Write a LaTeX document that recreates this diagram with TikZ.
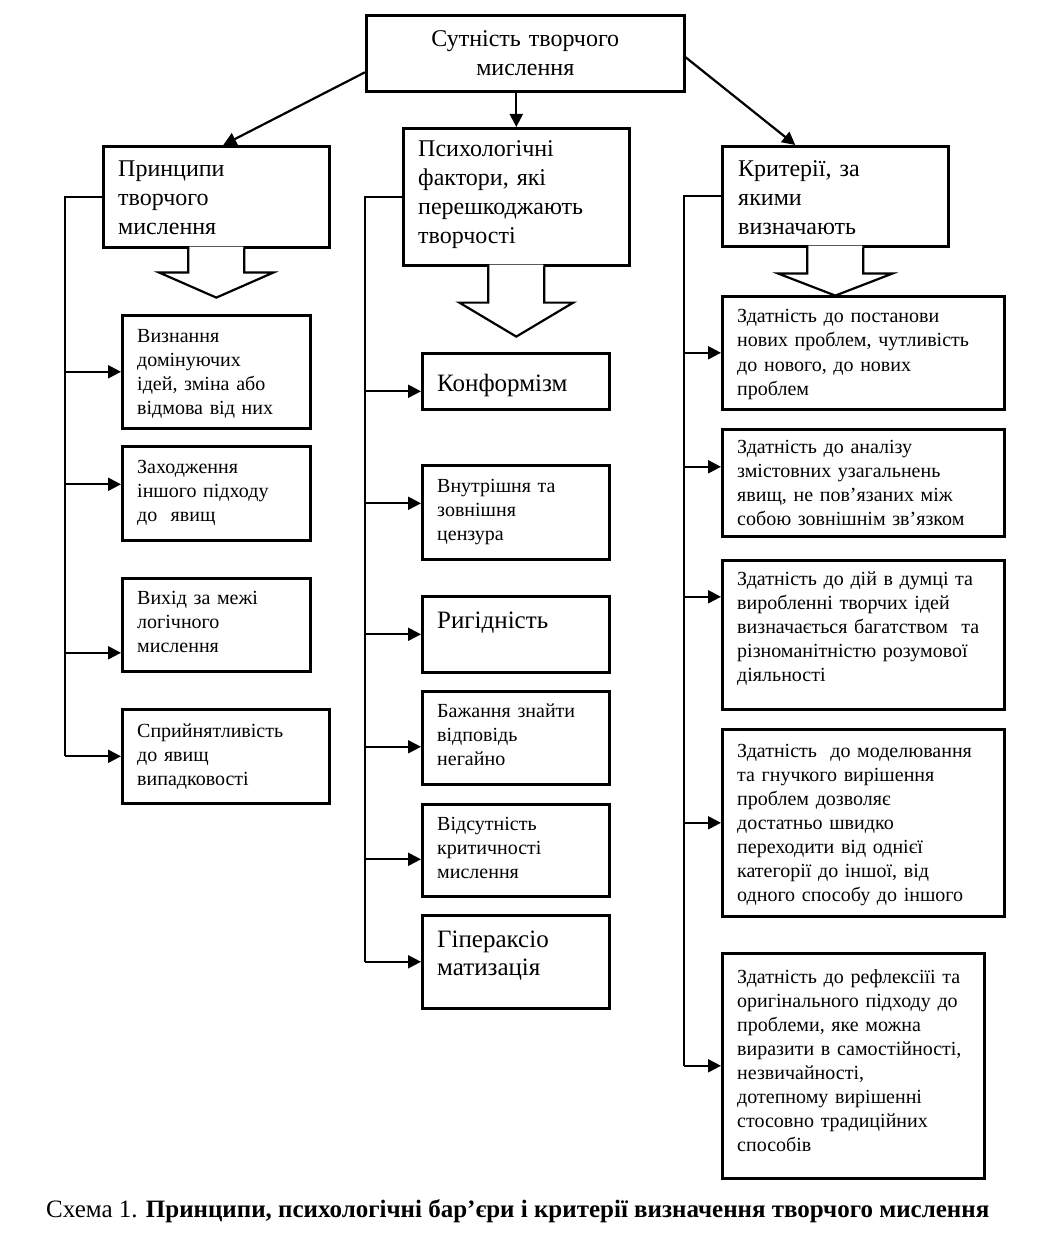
\documentclass[tikz,border=0pt]{standalone}
\usepackage{fontspec}
\setmainfont{Liberation Serif}
\usetikzlibrary{positioning}
\usetikzlibrary{arrows.meta}

% block arrow under a header box: node, stem length, head length
\newcommand{\bigdown}[3]{%
  \fill[white] ([xshift=-27,yshift=2]#1.south) -- ++(0,{#2+2}) -- ++(-29,0) -- ++(56,#3) -- ++(56,-#3) -- ++(-29,0) -- ++(0,{-#2-2}) -- cycle;
  \draw[ln] ([xshift=-28]#1.south) -- ++(0,#2) -- ++(-29,0) -- ++(57,#3) -- ++(57,-#3) -- ++(-29,0) -- ++(0,-#2);
}

\begin{document}
\begin{tikzpicture}[x=1pt, y=-1pt,
    box/.style={draw, line width=2.6pt, inner sep=0pt, anchor=north west},
    txt/.style={anchor=base west, inner sep=0pt, align=left, text width=270pt, font=\fontsize{20}{24}\selectfont},
    bigtxt/.style={anchor=base west, inner sep=0pt, align=left, text width=200pt, font=\fontsize{25}{28}\selectfont},
    head/.style={anchor=base west, inner sep=0pt, align=left, text width=210pt, font=\fontsize{24}{29}\selectfont},
    ln/.style={line width=2.2pt},
    arr/.style={line width=2.2pt, -{Triangle[length=13pt,width=13pt]}}]
  \useasboundingbox (0,0) rectangle (1048,1238);

  % top
  \node[box, minimum width=318pt, minimum height=76pt] (sut) at (365,14) {};
  \node[head, align=center, anchor=base, text width=300pt] (sutt) at ([yshift=-33]sut.north) {Сутність творчого\\мислення};

  % headers
  \node[box, minimum width=226pt, minimum height=101pt] (princ) at (102,145) {};
  \node[head] (princt) at ([xshift=16,yshift=-32]princ.north west) {Принципи\\творчого\\мислення};
  \node[box, minimum width=226pt, minimum height=137pt] (psych) at (402,127) {};
  \node[head] (psycht) at ([xshift=16,yshift=-30]psych.north west) {Психологічні\\фактори, які\\перешкоджають\\творчості};
  \node[box, minimum width=226pt, minimum height=100pt] (krit) at (721,145) {};
  \node[head] (kritt) at ([xshift=17,yshift=-32]krit.north west) {Критерії, за\\якими\\визначають};

  \coordinate (sl) at ([yshift=-19]sut.west);
  \coordinate (sr) at ([yshift=-4]sut.east);
  \draw[arr] (sl) -- ([xshift=7]princ.north);
  \draw[arr] (psych.north |- sut.south) -- (psych.north);
  \draw[arr] (sr) -- ([xshift=-40]krit.north);

  \bigdown{princ}{24}{25}
  \bigdown{psych}{36}{34}
  \bigdown{krit}{26}{22}

  % principles
  \node[box, minimum width=188pt, minimum height=113pt] (p1) at (121,314) {};
  \node[txt] (p1t) at ([xshift=16,yshift=-28]p1.north west) {Визнання\\домінуючих\\ідей, зміна або\\відмова від них};
  \node[box, minimum width=188pt, minimum height=94pt] (p2) at (121,445) {};
  \node[txt] (p2t) at ([xshift=16,yshift=-28]p2.north west) {Заходження\\іншого підходу\\до\ \ явищ};
  \node[box, minimum width=188pt, minimum height=93pt] (p3) at (121,577) {};
  \node[txt] (p3t) at ([xshift=16,yshift=-27]p3.north west) {Вихід за межі\\логічного\\мислення};
  \node[box, minimum width=207pt, minimum height=94pt] (p4) at (121,708) {};
  \node[txt] (p4t) at ([xshift=16,yshift=-29]p4.north west) {Сприйнятливість\\до явищ\\випадковості};

  \coordinate (tp) at ([xshift=-37]princ.west);
  \draw[ln] (princ.west) -- (tp) -- (tp |- p4.west);
  \foreach \b/\s in {p1/0,p2/9,p3/-28,p4/0} {
    \coordinate (e) at ([yshift=\s]\b.west);
    \draw[arr] (e -| tp) -- (e);
  }

  % barriers
  \node[box, minimum width=187pt, minimum height=56pt] (f1) at (421,352) {};
  \node[bigtxt] (f1t) at ([xshift=16,yshift=-39]f1.north west) {Конформізм};
  \node[box, minimum width=187pt, minimum height=94pt] (f2) at (421,464) {};
  \node[txt] (f2t) at ([xshift=16,yshift=-28]f2.north west) {Внутрішня та\\зовнішня\\цензура};
  \node[box, minimum width=187pt, minimum height=76pt] (f3) at (421,595) {};
  \node[bigtxt] (f3t) at ([xshift=16,yshift=-33]f3.north west) {Ригідність};
  \node[box, minimum width=187pt, minimum height=93pt] (f4) at (421,690) {};
  \node[txt] (f4t) at ([xshift=16,yshift=-27]f4.north west) {Бажання знайти\\відповідь\\негайно};
  \node[box, minimum width=187pt, minimum height=92pt] (f5) at (421,803) {};
  \node[txt] (f5t) at ([xshift=16,yshift=-27]f5.north west) {Відсутність\\критичності\\мислення};
  \node[box, minimum width=187pt, minimum height=93pt] (f6) at (421,914) {};
  \node[bigtxt] (f6t) at ([xshift=16,yshift=-33]f6.north west) {Гіпераксіо\\матизація};

  \coordinate (tf) at ([xshift=-37]psych.west);
  \draw[ln] (psych.west) -- (tf) -- (tf |- f6.west);
  \foreach \b/\s in {f1/-10,f2/9,f3/0,f4/-9,f5/-9,f6/0} {
    \coordinate (e) at ([yshift=\s]\b.west);
    \draw[arr] (e -| tf) -- (e);
  }

  % criteria
  \node[box, minimum width=282pt, minimum height=113pt] (k1) at (721,295) {};
  \node[txt] (k1t) at ([xshift=16,yshift=-28]k1.north west) {Здатність до постанови\\нових проблем, чутливість\\до нового, до нових\\проблем};
  \node[box, minimum width=282pt, minimum height=107pt] (k2) at (721,428) {};
  \node[txt] (k2t) at ([xshift=16,yshift=-25]k2.north west) {Здатність до аналізу\\змістовних узагальнень\\явищ, не пов’язаних між\\собою зовнішнім зв’язком};
  \node[box, minimum width=282pt, minimum height=149pt] (k3) at (721,559) {};
  \node[txt] (k3t) at ([xshift=16,yshift=-26]k3.north west) {Здатність до дій в думці та\\виробленні творчих ідей\\визначається багатством\ \ та\\різноманітністю розумової\\діяльності};
  \node[box, minimum width=282pt, minimum height=187pt] (k4) at (721,728) {};
  \node[txt] (k4t) at ([xshift=16,yshift=-29]k4.north west) {Здатність\ \ до моделювання\\та гнучкого вирішення\\проблем дозволяє\\достатньо швидко\\переходити від однієї\\категорії до іншої, від\\одного способу до іншого};
  \node[box, minimum width=262pt, minimum height=225pt] (k5) at (721,952) {};
  \node[txt] (k5t) at ([xshift=16,yshift=-31]k5.north west) {Здатність до рефлексіїі та\\оригінального підходу до\\проблеми, яке можна\\виразити в самостійності,\\незвичайності,\\дотепному вирішенні\\стосовно традиційних\\способів};

  \coordinate (tk) at ([xshift=-37]krit.west);
  \draw[ln] (krit.west) -- (tk) -- (tk |- k5.west);
  \foreach \b/\s in {k1/0,k2/16,k3/38,k4/0,k5/0} {
    \coordinate (e) at ([yshift=\s]\b.west);
    \draw[arr] (e -| tk) -- (e);
  }

  % caption
  \node[anchor=base west, inner sep=0pt, font=\fontsize{25}{28}\selectfont] (cap) at (46,1217)
    {Схема 1. \textbf{Принципи, психологічні бар’єри і критерії визначення творчого мислення}};
\end{tikzpicture}
\end{document}
